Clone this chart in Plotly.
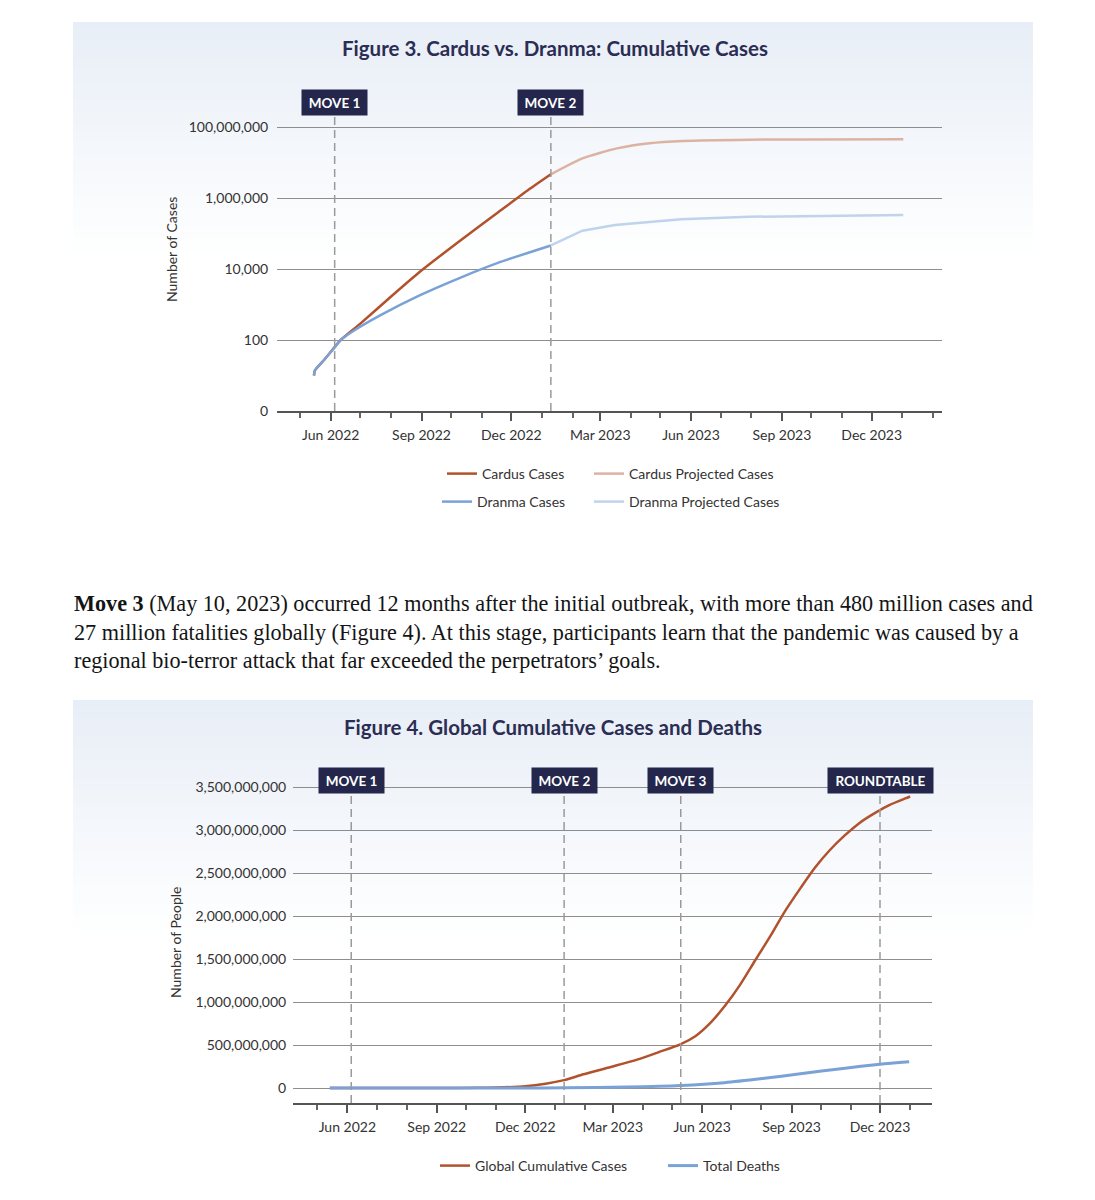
import plotly.graph_objects as go

# page body has an 8px margin: draw in reference coordinates shifted by it
OX, OY = 8, 8
W, H = 1087, 1192

# ---------------- Figure 3 data ----------------
cardus_dates = ["2022-05-15", "2022-05-16", "2022-05-25", "2022-06-05", "2022-06-11",
                "2022-07-01", "2022-07-31", "2022-08-30", "2022-10-09", "2022-11-18",
                "2022-12-18", "2023-01-10"]
cardus_vals = [10, 14, 27, 63, 100, 290, 1575, 8230, 59500, 403000, 1680000, 4650000]

cardus_proj_dates = ["2023-01-10", "2023-02-11", "2023-03-18", "2023-04-20", "2023-05-24",
                     "2023-07-30", "2023-10-01", "2024-01-02"]
cardus_proj_vals = [4650000, 13100000, 25000000, 35000000, 40500000, 44000000, 44800000, 45000000]

dranma_dates = ["2022-05-15", "2022-05-16", "2022-05-25", "2022-06-05", "2022-06-11",
                "2022-06-20", "2022-07-21", "2022-08-30", "2022-10-10", "2022-11-18",
                "2023-01-10"]
dranma_vals = [10, 14, 27, 63, 100, 153, 493, 1805, 5650, 15100, 46000]

dranma_proj_dates = ["2023-01-10", "2023-02-11", "2023-03-16", "2023-04-19", "2023-05-22",
                     "2023-07-30", "2023-10-06", "2024-01-02"]
dranma_proj_vals = [46000, 120000, 174000, 214000, 250000, 296000, 316000, 331000]

fig3_tickvals = [1, 100, 10000, 1000000, 100000000]
fig3_ticktext = ["0", "100", "10,000", "1,000,000", "100,000,000"]

# ---------------- Figure 4 data ----------------
cases_dates = ["2022-05-14", "2022-07-01", "2022-09-01", "2022-10-15", "2022-11-01",
               "2022-12-01", "2022-12-22", "2023-01-10", "2023-01-30", "2023-02-27",
               "2023-03-27", "2023-04-18", "2023-05-09", "2023-05-25", "2023-06-09",
               "2023-06-24 12:00", "2023-07-10", "2023-07-25", "2023-08-10", "2023-08-25",
               "2023-09-10", "2023-09-25", "2023-10-10 12:00", "2023-10-26", "2023-11-10",
               "2023-11-26", "2023-12-11", "2023-12-27", "2024-01-01"]
cases_vals = [0, 100000, 500000, 2500000, 6000000, 20000000, 50000000, 92000000,
              160000000, 245000000, 333000000, 420000000, 505000000, 603000000,
              752000000, 956000000, 1200000000, 1474000000, 1763000000, 2052000000,
              2322000000, 2562000000, 2768000000, 2940000000, 3083000000, 3199000000,
              3293000000, 3368000000, 3390000000]

deaths_dates = ["2022-05-14", "2022-09-01", "2022-12-01", "2023-01-10", "2023-03-15",
                "2023-05-10", "2023-06-24", "2023-08-02", "2023-09-10", "2023-10-24",
                "2023-12-01", "2023-12-31"]
deaths_vals = [0, 200000, 1000000, 3000000, 12000000, 30000000, 62000000, 110000000,
               166000000, 228000000, 276000000, 305000000]

fig4_tickvals = [0, 500000000, 1000000000, 1500000000, 2000000000, 2500000000,
                 3000000000, 3500000000]

moves3 = [("MOVE 1", "2022-06-05"), ("MOVE 2", "2023-01-10")]
moves4 = [("MOVE 1", "2022-06-05"), ("MOVE 2", "2023-01-10"),
          ("MOVE 3", "2023-05-10"), ("ROUNDTABLE", "2023-12-01")]

paragraph = [
    "<b>Move 3</b> (May 10, 2023) occurred 12 months after the initial outbreak, with more than 480 million cases and",
    "27 million fatalities globally (Figure 4). At this stage, participants learn that the pandemic was caused by a",
    "regional bio-terror attack that far exceeded the perpetrators\u2019 goals.",
]

# ---------------- styles ----------------
ORANGE = "#b1522c"
BLUE = "#7aa2d6"
ORANGE_L = "#dcb3a3"
BLUE_L = "#c0d3ec"
NAVY = "#24264b"
SANS = "Lato"
GRID = "#8e8e8e"
AXIS = "#555555"
TXT = "#333333"


def px(x):
    return (x - OX) / W


def py(y):
    return 1 - (y - OY) / H


fig = go.Figure()

fig.add_trace(go.Scatter(x=cardus_dates, y=cardus_vals, mode="lines", name="Cardus Cases",
                         line=dict(color=ORANGE, width=2.5, shape="spline", smoothing=0.5),
                         xaxis="x", yaxis="y", legend="legend", showlegend=True))
fig.add_trace(go.Scatter(x=cardus_proj_dates, y=cardus_proj_vals, mode="lines",
                         name="Cardus Projected Cases",
                         line=dict(color=ORANGE_L, width=2.5, shape="spline", smoothing=0.6),
                         xaxis="x", yaxis="y", legend="legend2", showlegend=True))
fig.add_trace(go.Scatter(x=dranma_dates, y=dranma_vals, mode="lines", name="Dranma Cases",
                         line=dict(color=BLUE, width=2.5, shape="spline", smoothing=0.5),
                         xaxis="x", yaxis="y", legend="legend3", showlegend=True))
fig.add_trace(go.Scatter(x=dranma_proj_dates, y=dranma_proj_vals, mode="lines",
                         name="Dranma Projected Cases",
                         line=dict(color=BLUE_L, width=2.5, shape="linear"),
                         xaxis="x", yaxis="y", legend="legend4", showlegend=True))

fig.add_trace(go.Scatter(x=cases_dates, y=cases_vals, mode="lines", name="Global Cumulative Cases",
                         line=dict(color=ORANGE, width=2.5, shape="spline", smoothing=0.7),
                         xaxis="x2", yaxis="y2", legend="legend5", showlegend=True))
fig.add_trace(go.Scatter(x=deaths_dates, y=deaths_vals, mode="lines", name="Total Deaths",
                         line=dict(color=BLUE, width=3, shape="spline", smoothing=0.7),
                         xaxis="x2", yaxis="y2", legend="legend6", showlegend=True))


def leg(xp, yp):
    return dict(x=px(xp), y=py(yp), xanchor="left", yanchor="middle", orientation="h",
                bgcolor="rgba(0,0,0,0)", borderwidth=0,
                font=dict(family=SANS, size=14, color=TXT), itemwidth=30)


xcommon = dict(type="date", showgrid=False, showline=True, linecolor=AXIS, linewidth=2,
               ticks="outside", ticklen=8, tickwidth=2, tickcolor=AXIS,
               tick0="2022-03-01", dtick="M3", tickformat="%b %Y",
               tickfont=dict(family=SANS, size=14, color=TXT),
               ticklabelstandoff=2, zeroline=False, fixedrange=True,
               minor=dict(dtick="M1", tick0="2022-03-01", ticks="outside", ticklen=5,
                          tickwidth=1.5, tickcolor="#666666", showgrid=False))

shapes = []
# gradient panels behind each figure
for top in (22, 700):
    steps = 40
    span = 240
    for i in range(steps):
        t = i / (steps - 1)
        r = int(round(232 + (255 - 232) * t))
        g = int(round(238 + (255 - 238) * t))
        b = int(round(247 + (255 - 247) * t))
        shapes.append(dict(type="rect", xref="paper", yref="paper",
                           x0=px(73), x1=px(1033),
                           y0=py(top + span * (i + 1) / steps + 0.5), y1=py(top + span * i / steps),
                           fillcolor=f"rgb({r},{g},{b})", line=dict(width=0), layer="below"))

annotations = []
for name, d in moves3:
    shapes.append(dict(type="line", xref="x", yref="paper", x0=d, x1=d,
                       y0=py(411), y1=py(110), line=dict(color="#9a9a9a", width=1.5, dash="8px,5px")))
    annotations.append(dict(text=name, x=d, xref="x", y=py(102.5), yref="paper",
                            xanchor="center", yanchor="middle",
                            showarrow=False, bgcolor=NAVY, borderpad=4,
                            width=(96 if name == "ROUNDTABLE" else 57), height=17,
                            font=dict(family=SANS, size=13.5, color="white", weight="bold")))
for name, d in moves4:
    shapes.append(dict(type="line", xref="x2", yref="paper", x0=d, x1=d,
                       y0=py(1103), y1=py(785), line=dict(color="#9a9a9a", width=1.5, dash="8px,5px")))
    annotations.append(dict(text=name, x=d, xref="x2", y=py(780.5), yref="paper",
                            xanchor="center", yanchor="middle",
                            showarrow=False, bgcolor=NAVY, borderpad=4,
                            width=(97 if name == "ROUNDTABLE" else 57), height=17,
                            font=dict(family=SANS, size=13.5, color="white", weight="bold")))

annotations += [
    dict(text="Figure 3. Cardus vs. Dranma: Cumulative Cases", x=px(555), y=py(48),
         xref="paper", yref="paper", xanchor="center", yanchor="middle", showarrow=False,
         font=dict(family=SANS, size=20.5, color="#2b2d52", weight="bold")),
    dict(text="Figure 4. Global Cumulative Cases and Deaths", x=px(553), y=py(727),
         xref="paper", yref="paper", xanchor="center", yanchor="middle", showarrow=False,
         font=dict(family=SANS, size=20.5, color="#2b2d52", weight="bold")),
    dict(text="Number of Cases", x=px(172), y=py(250), xref="paper", yref="paper",
         xanchor="center", yanchor="middle",
         showarrow=False, textangle=-90, font=dict(family=SANS, size=14, color=TXT)),
    dict(text="Number of People", x=px(175), y=py(943), xref="paper", yref="paper",
         xanchor="center", yanchor="middle",
         showarrow=False, textangle=-90, font=dict(family=SANS, size=14, color=TXT)),
]
for i, line in enumerate(paragraph):
    annotations.append(dict(text=line, x=px(72), y=py(603 + 29 * i), xref="paper", yref="paper",
                            xanchor="left", yanchor="middle", showarrow=False,
                            font=dict(family="Liberation Serif", size=22.2, color="#141414")))

fig.update_layout(
    width=W, height=H, margin=dict(l=0, r=0, t=0, b=0, autoexpand=False),
    paper_bgcolor="white", plot_bgcolor="rgba(0,0,0,0)",
    xaxis=dict(domain=[px(277), px(942)], range=["2022-04-07 14:00", "2024-02-10 05:00"],
               anchor="y", **xcommon),
    yaxis=dict(domain=[py(411), py(125)], type="log", range=[0, 8.0563], anchor="x",
               tickvals=fig3_tickvals, ticktext=fig3_ticktext, showgrid=True,
               gridcolor=GRID, gridwidth=1.3, showline=False, zeroline=False,
               ticks="outside", ticklen=5, tickcolor="rgba(0,0,0,0)",
               tickfont=dict(family=SANS, size=14, color=TXT), fixedrange=True),
    xaxis2=dict(domain=[px(293), px(932)], range=["2022-04-06 02:00", "2024-01-23 12:00"],
                anchor="y2", **xcommon),
    yaxis2=dict(domain=[py(1103), py(785)], range=[-174000000, 3523700000], anchor="x2",
                tickvals=fig4_tickvals, tickformat=",d", showgrid=True,
                gridcolor=GRID, gridwidth=1.3, showline=False, zeroline=False,
                ticks="outside", ticklen=3, tickcolor="rgba(0,0,0,0)",
                tickfont=dict(family=SANS, size=14, color=TXT), fixedrange=True),
    showlegend=True,
    legend=leg(442, 474), legend2=leg(589, 474), legend3=leg(437, 502), legend4=leg(589, 502),
    legend5=leg(435, 1166), legend6=leg(663, 1166),
    shapes=shapes, annotations=annotations,
)

fig.write_html("out.html")
